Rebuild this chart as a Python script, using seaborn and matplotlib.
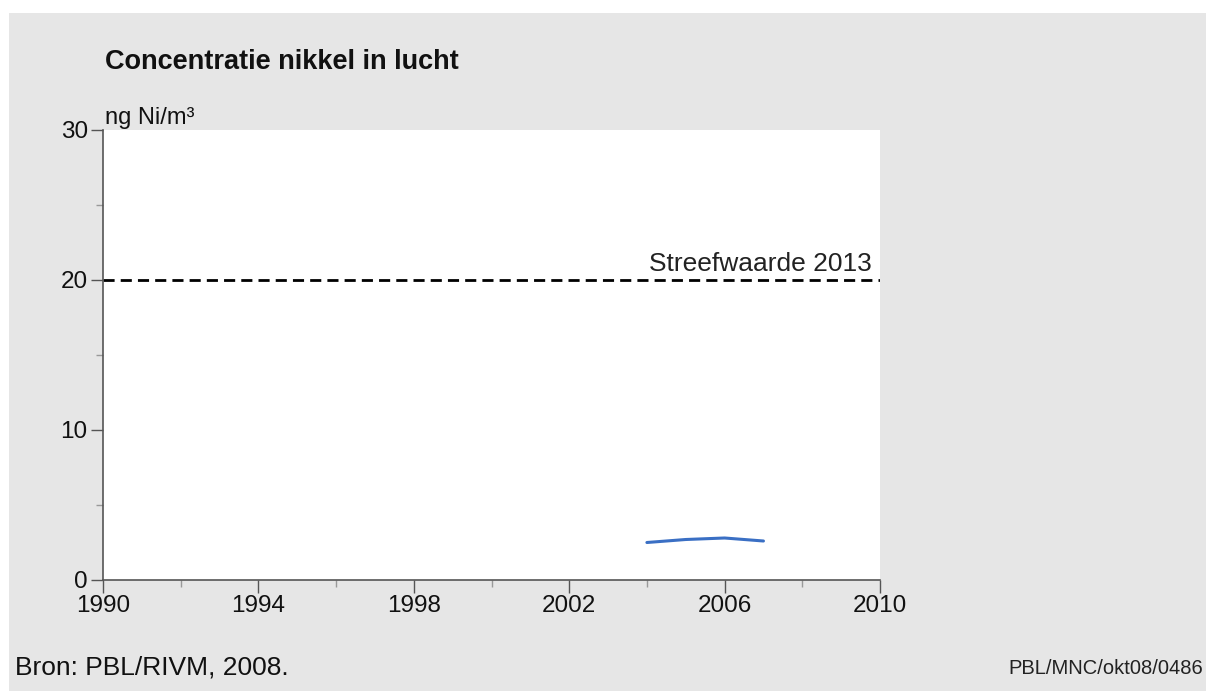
import numpy as np
import pandas as pd
import seaborn as sns
import matplotlib.pyplot as plt
from matplotlib.ticker import MultipleLocator
from matplotlib.patches import Rectangle

# nickel concentration in air (ng Ni/m3)
years = [2004, 2005, 2006, 2007]
nickel = [2.5, 2.7, 2.8, 2.6]
target_years = [1990, 2010]
target_value = [20, 20]
x_ticks = [1990, 1994, 1998, 2002, 2006, 2010]
y_ticks = [0, 10, 20, 30]

sns.set_style('ticks')
plt.rcParams['font.family'] = ['Liberation Sans', 'DejaVu Sans']

fig = plt.figure(figsize=(12.06, 6.91), dpi=100, facecolor='white')
# grey panel behind everything (thin white border top/left)
bg = Rectangle((9 / 1206, 0), 1, 1 - 13 / 691, transform=fig.transFigure,
               facecolor='#e6e6e6', edgecolor='none', zorder=-10)
fig.patches.append(bg)

ax = fig.add_axes([103 / 1206, 1 - 580 / 691, (880 - 103) / 1206, (580 - 130) / 691])
ax.set_facecolor('white')

df = pd.DataFrame({'year': years, 'nickel': nickel})
sns.lineplot(data=df, x='year', y='nickel', color='#3a6fc4', linewidth=2.2, ax=ax)
ax.plot(target_years, target_value, color='black', linestyle=(0, (4, 2.2)), linewidth=2)
ax.text(2009.8, 20.25, 'Streefwaarde 2013', ha='right', va='bottom', fontsize=19, color='#222222')

ax.set_xlim(1990, 2010)
ax.set_ylim(0, 30)
ax.set_xticks(x_ticks)
ax.set_yticks(y_ticks)
ax.xaxis.set_minor_locator(MultipleLocator(2))
ax.yaxis.set_minor_locator(MultipleLocator(5))
ax.tick_params(axis='both', which='major', labelsize=17.5, length=9, width=1, color='#555555',
               labelcolor='#111111', pad=2)
ax.tick_params(axis='both', which='minor', length=5, width=1, color='#999999')
ax.set_xlabel('')
ax.set_ylabel('')

for side in ['top', 'right']:
    ax.spines[side].set_visible(False)
for side in ['left', 'bottom']:
    ax.spines[side].set_color('#555555')
    ax.spines[side].set_linewidth(1.2)

fig.text(105 / 1206, 1 - 62 / 691, 'Concentratie nikkel in lucht', fontsize=19.5,
         fontweight='bold', va='center', ha='left', color='#111111')
fig.text(105 / 1206, 1 - 118 / 691, 'ng Ni/m³', fontsize=17, va='center', ha='left', color='#111111')
fig.text(15 / 1206, 1 - 667 / 691, 'Bron: PBL/RIVM, 2008.', fontsize=19, va='center', ha='left',
         color='#111111')
fig.text(1203 / 1206, 1 - 668 / 691, 'PBL/MNC/okt08/0486', fontsize=14.5, va='center', ha='right',
         color='#222222')

fig.savefig('out.png', dpi=100, facecolor=fig.get_facecolor())
